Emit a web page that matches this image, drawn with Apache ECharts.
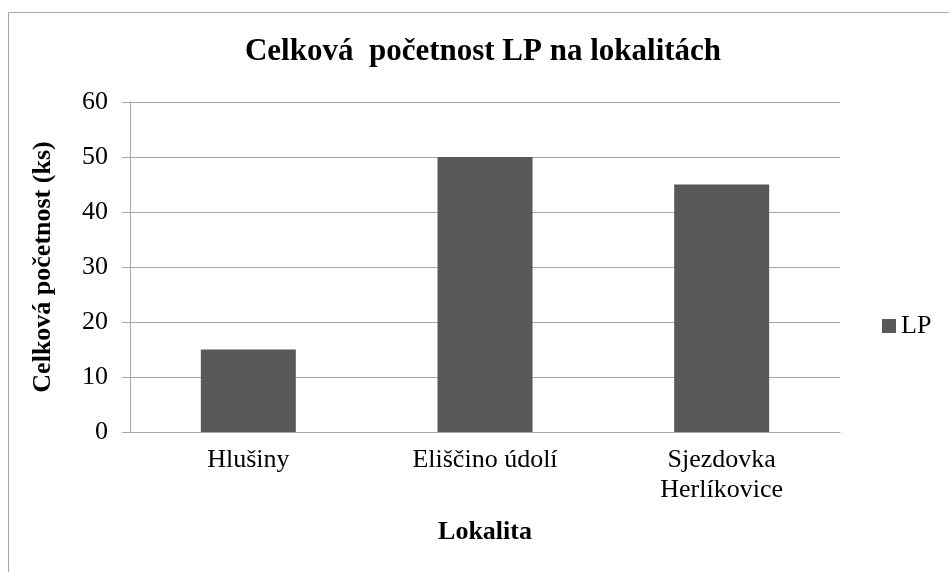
<!DOCTYPE html>
<html>
<head>
<meta charset="utf-8">
<script src="https://cdn.jsdelivr.net/npm/echarts@6/dist/echarts.min.js"></script>
<style>
  html, body { margin: 0; padding: 0; background: #fff; }
  #chart { width: 949px; height: 572px; }
</style>
</head>
<body>
<div id="chart"></div>
<script>
const categories = ['Hlušiny', 'Eliščino údolí', 'Sjezdovka\nHerlíkovice'];
const lpValues = [15, 50, 45];
const seriesName = 'LP';

const font = '"Liberation Serif", "Times New Roman", serif';
const lineColor = '#a6a6a6';

const chart = echarts.init(document.getElementById('chart'));
chart.setOption({
  animation: false,
  textStyle: { fontFamily: font },
  graphic: [{
    type: 'rect',
    shape: { x: 8.5, y: 12.5, width: 2000, height: 2000 },
    style: { fill: 'none', stroke: lineColor, lineWidth: 1 }
  }],
  title: {
    text: 'Celková  početnost LP na lokalitách',
    left: 483,
    top: 36,
    padding: 0,
    textAlign: 'center',
    textStyle: { fontFamily: font, fontSize: 31, fontWeight: 'bold', color: '#000' }
  },
  legend: {
    data: [seriesName],
    left: 882,
    top: 313,
    padding: 0,
    icon: 'rect',
    itemWidth: 14,
    itemHeight: 14,
    textStyle: { fontFamily: font, fontSize: 26, color: '#000' }
  },
  grid: { left: 130, right: 109, top: 102, bottom: 140 },
  xAxis: {
    type: 'category',
    data: categories,
    name: 'Lokalita',
    nameLocation: 'middle',
    nameGap: 87,
    nameTextStyle: { fontFamily: font, fontSize: 26, fontWeight: 'bold', color: '#000' },
    axisLine: { lineStyle: { color: lineColor } },
    axisTick: { show: false },
    axisLabel: { fontFamily: font, fontSize: 26, color: '#000', margin: 13, lineHeight: 30, interval: 0 }
  },
  yAxis: {
    type: 'value',
    min: 0,
    max: 60,
    interval: 10,
    name: 'Celková početnost (ks)',
    nameLocation: 'middle',
    nameGap: 74,
    nameTextStyle: { fontFamily: font, fontSize: 26, fontWeight: 'bold', color: '#000' },
    axisLine: { show: true, lineStyle: { color: lineColor } },
    axisTick: { show: true, length: 8, lineStyle: { color: lineColor } },
    splitLine: { lineStyle: { color: lineColor } },
    axisLabel: { fontFamily: font, fontSize: 26, color: '#000', margin: 22 }
  },
  series: [{
    name: seriesName,
    type: 'bar',
    data: lpValues,
    barWidth: 95,
    itemStyle: { color: '#595959' }
  }]
});
</script>
</body>
</html>
